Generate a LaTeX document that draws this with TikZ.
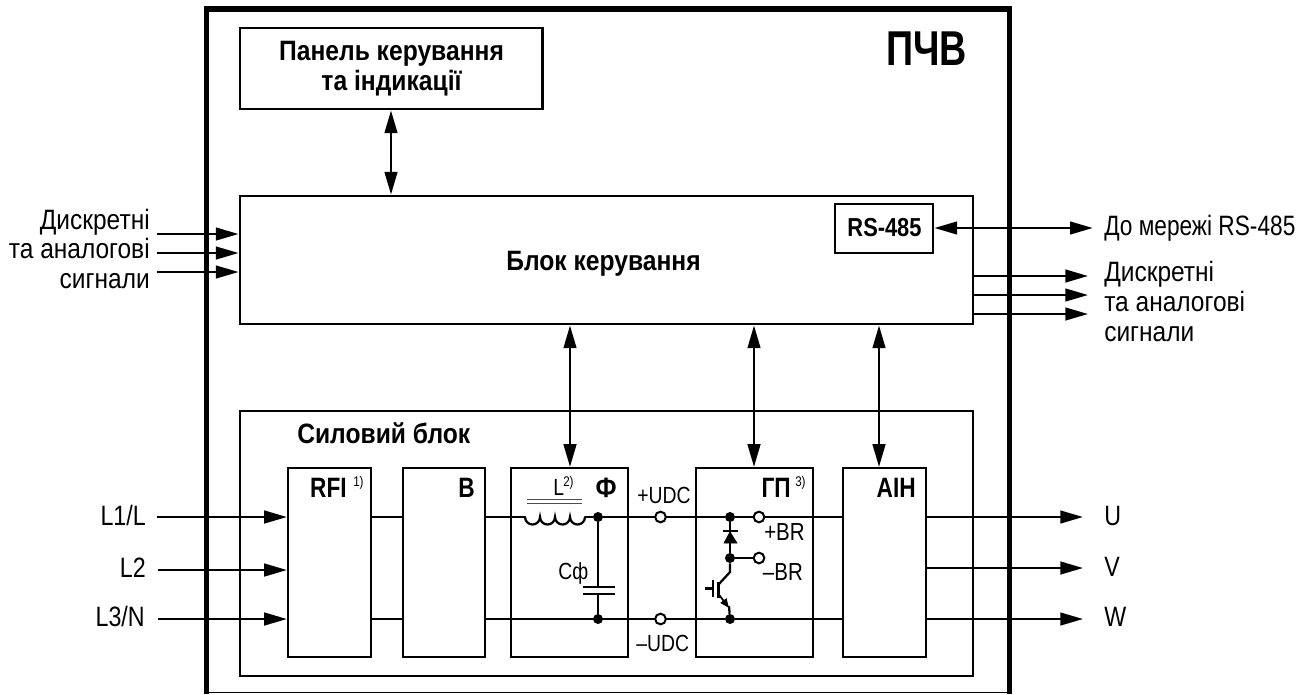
\documentclass[tikz,border=0pt]{standalone}
\usepackage{fontspec}
\setmainfont[FakeStretch=0.83,BoldFeatures={FakeStretch=0.88}]{Liberation Sans}
\newfontfamily\rsfont[FakeStretch=0.84]{Liberation Sans Bold}
\newfontfamily\nbfont[FakeStretch=0.81]{Liberation Sans Bold}
\newfontfamily\pcvfont[FakeStretch=0.77]{Liberation Sans Bold}
\newfontfamily\cyrfont[FakeStretch=0.875]{Liberation Sans}
\newfontfamily\netfont[FakeStretch=0.81]{Liberation Sans}
\usetikzlibrary{arrows.meta,positioning,calc}
\tikzset{
 x=0.75pt,y=-0.75pt,
 blk/.style={draw,line width=2.2pt,inner sep=0pt},
 iblk/.style={draw,line width=1.7pt,inner sep=0pt},
 wire/.style={line width=1.7pt},
 conn/.style={line width=1.7pt,-{Triangle[length=17pt,width=9.5pt]}},
 biconn/.style={line width=1.7pt,{Triangle[length=17pt,width=9.5pt]}-{Triangle[length=17pt,width=9.5pt]}},
 lbl/.style={font=\fontsize{21pt}{25pt}\selectfont,inner sep=0pt},
 rlbl/.style={lbl,anchor=base east},
 llbl/.style={lbl,anchor=base west},
 slbl/.style={font=\fontsize{17.5pt}{21pt}\selectfont,inner sep=0pt,anchor=base west},
 brlbl/.style={font=\fontsize{18.5pt}{21pt}\selectfont,inner sep=0pt,anchor=base west},
 blbl/.style={font=\fontsize{21pt}{25pt}\selectfont\bfseries,inner sep=0pt},
 nlbl/.style={font=\fontsize{21pt}{25pt}\selectfont\nbfont,inner sep=0pt,anchor=base east},
 sup/.style={font=\fontsize{10.5pt}{12pt}\selectfont,inner sep=0pt,anchor=north west},
 term/.style={circle,draw,line width=1.5pt,fill=white,minimum size=8pt,inner sep=0pt},
 jdot/.style={circle,fill=black,minimum size=7.5pt,inner sep=0pt},
}
\newcommand{\bx}[6]{\node[#6,minimum width=#4*0.75pt,minimum height=#5*0.75pt] (#1) at (#2+#4/2,#3+#5/2) {};}
\begin{document}
\begin{tikzpicture}
\useasboundingbox (0,0) rectangle (1305,694);
% frame
\draw[line width=0.9pt] (206,692.7) -- (1010,692.7);
\draw[line width=4.2pt] (206.5,694) -- (206.5,9) -- (1009.5,9) -- (1009.5,694);
\node[font=\fontsize{36.7pt}{40pt}\selectfont,inner sep=0pt,anchor=base] (pcv) at (926.5,65) {\pcvfont ПЧВ};
% blocks
\bx{panel}{240}{28}{302.5}{81}{blk}
\node[blbl,anchor=base] (panellbl) at (391.5,60.7) {Панель керування};
\node[blbl,anchor=base] (panellbl2) at (391.5,90) {та індикації};
\bx{ctrl}{240}{196}{733}{128}{blk}
\node[blbl,anchor=base] (ctrllbl) at (603.5,270) {Блок керування};
\bx{rs}{835}{204}{98}{49}{blk}
\node[font=\fontsize{19.5pt}{23pt}\selectfont,inner sep=0pt,anchor=base] (rslbl) at (884.5,236.7) {\rsfont RS-485};
\bx{pwr}{240}{411}{733}{265}{blk}
\node[blbl,anchor=base west] (pwrlbl) at (297,443) {Силовий блок};
\bx{rfi}{288}{468}{82.7}{189}{iblk}
\bx{vb}{402.7}{468}{82.3}{189}{iblk}
\bx{fb}{511}{468}{117}{189}{iblk}
\bx{gp}{696}{468}{117}{189}{iblk}
\bx{ain}{843}{468}{82.7}{189}{iblk}
\node[nlbl] (rfil) at (347,497) {RFI};
\node[sup] (rfis) at (353,476) {1)};
\node[nlbl] (vl) at (475,497) {В};
\node[blbl,anchor=base east] (fl) at (617,497) {Ф};
\node[nlbl] (gl) at (791,497) {ГП};
\node[sup] (gs) at (795,476) {3)};
\node[nlbl] (al) at (916,497) {АІН};
% vertical links
\coordinate (xp) at (391,0); \coordinate (xa) at (570,0); \coordinate (xb) at (754,0); \coordinate (xc) at (879,0);
\draw[biconn] (panel.south -| xp) -- (ctrl.north -| xp);
\draw[biconn] (ctrl.south -| xa) -- (fb.north -| xa);
\draw[biconn] (ctrl.south -| xb) -- (gp.north -| xb);
\draw[biconn] (ctrl.south -| xc) -- (ain.north -| xc);
% left signals
\foreach \n/\y in {i1/234,i2/253,i3/272}{
 \coordinate (\n a) at (157,\y);
 \draw[conn] (\n a) -- (ctrl.west |- \n a);}
\node[rlbl] (li1) at (150,229.5) {\cyrfont Дискретні};
\node[rlbl] (li2) at (150,258.5) {\cyrfont та аналогові};
\node[rlbl] (li3) at (150,288) {\cyrfont сигнали};
% right signals
\coordinate (rse) at (1092.7,228);
\draw[biconn] (rs.east |- rse) -- (rse);
\node[llbl] (rsn) at (1104,235.5) {\netfont До мережі RS-485};
\foreach \n/\y in {o1/276,o2/295,o3/314}{
 \coordinate (\n b) at (1088,\y);
 \draw[conn] (ctrl.east |- \n b) -- (\n b);}
\node[llbl] (lo1) at (1104,281) {\cyrfont Дискретні};
\node[llbl] (lo2) at (1104,311.5) {\cyrfont та аналогові};
\node[llbl] (lo3) at (1104,341.5) {\cyrfont сигнали};
% inputs
\coordinate (y1) at (0,517); \coordinate (y2) at (0,619);
\node[rlbl] (l1) at (146,525) {L1/L};
\node[rlbl] (l2) at (146,577) {L2};
\node[rlbl] (l3) at (145,626) {L3/N};
\coordinate (l1a) at (157,517); \coordinate (l2a) at (158,570); \coordinate (l3a) at (158,619);
\draw[conn] (l1a) -- (rfi.west |- l1a);
\draw[conn] (l2a) -- (rfi.west |- l2a);
\draw[conn] (l3a) -- (rfi.west |- l3a);
% wires between blocks
\foreach \y in {y1,y2}{
 \draw[wire] (rfi.east |- \y) -- (vb.west |- \y);
 \draw[wire] (vb.east |- \y) -- (fb.west |- \y);
 \draw[wire] (gp.east |- \y) -- (ain.west |- \y);}
% filter
\coordinate (cs) at (525,517); \coordinate (ce) at (585,517);
\draw[wire] (fb.west |- cs) -- (cs);
\draw[wire,line cap=round] (cs) arc[start angle=180,end angle=0,radius=7.5] arc[start angle=180,end angle=0,radius=7.5] arc[start angle=180,end angle=0,radius=7.5] arc[start angle=180,end angle=0,radius=7.5];
\draw[line width=0.8pt,black!70] (527,499.5) -- (582,499.5) (527,503.5) -- (582,503.5);
\node[jdot] (ft) at (598,517) {};
\node[jdot] (fb1) at (598,619) {};
\draw[wire] (ce) -- (ft) -- (gp.west |- ft);
\draw[wire] (fb.west |- fb1) -- (gp.west |- fb1);
\coordinate (cu) at (598,587); \coordinate (cd) at (598,594);
\draw[wire] (ft) -- (cu) (cd) -- (fb1);
\draw[wire] (583,587) -- (615,587) (583,594) -- (615,594);
\node[slbl] (cf) at (558,579) {Сф};
\node[slbl] (ll) at (553,495) {L};
\node[sup] (ls) at (563,476) {2)};
\node[term] (tp) at (660.5,517) {};
\node[term] (tm) at (660.5,619) {};
\node[slbl] (tpl) at (637,503) {+UDC};
\node[slbl] (tml) at (636,651.7) {–UDC};
% GP
\node[jdot] (g1) at (730,517) {};
\node[jdot] (g2) at (730,558) {};
\node[jdot] (g3) at (730,619) {};
\draw[wire] (gp.west |- g3) -- (g3) -- (gp.east |- g3);
\draw[wire] (gp.west |- g1) -- (g1);
\draw[wire] (g1) -- (g2);
\filldraw[line width=0.5pt] (724,543) -- (737,543) -- (730,532) -- cycle;
\draw[line width=1pt] (723,531) -- (738,531);
\node[term] (br1) at (759,517) {};
\node[term] (br2) at (759,558) {};
\draw[wire] (g1) -- (br1);
\draw[wire] (br1) -- (gp.east |- g1);
\draw[wire] (g2) -- (br2);
\draw[wire] (g2) -- (730,572) -- (719,584);
\draw[wire] (718.5,582) -- (718.5,598);
\draw[wire] (712.7,580) -- (712.7,597);
\draw[wire] (705,588.5) -- (712.7,588.5);
\draw[line width=1.3pt,-{Triangle[length=7pt,width=5.5pt]}] (718.5,594) -- (729,608);
\draw[wire] (729,606) -- (g3);
\node[brlbl] (bpl) at (764,540) {+BR};
\node[brlbl] (bml) at (762.7,580) {–BR};
% outputs
\coordinate (ub) at (1083,517); \coordinate (vb2) at (1083,568); \coordinate (wb) at (1083,619);
\draw[conn] (ain.east |- ub) -- (ub);
\draw[conn] (ain.east |- vb2) -- (vb2);
\draw[conn] (ain.east |- wb) -- (wb);
\node[llbl] (u) at (1104,525) {U};
\node[llbl] (v) at (1104,576.7) {V};
\node[llbl] (w) at (1104,626) {W};
\end{tikzpicture}
\end{document}
